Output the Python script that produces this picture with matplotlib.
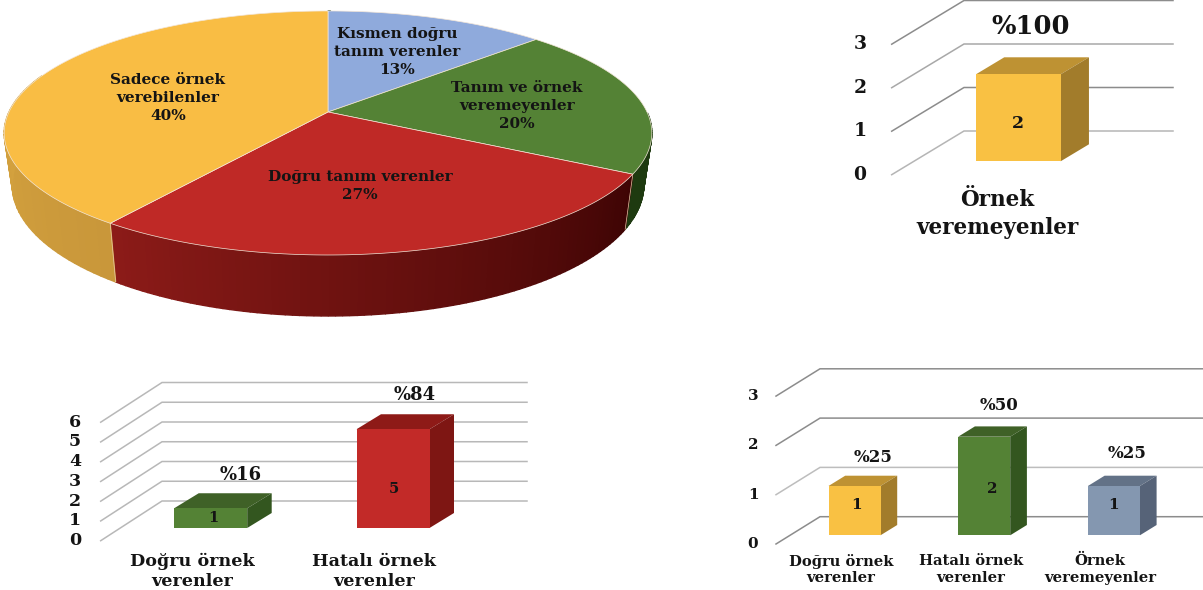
import numpy as np
import matplotlib
matplotlib.use('Agg')
import matplotlib.pyplot as plt
from matplotlib.patches import Polygon

W, H = 1203, 590

# pie
pie_labels = ['Kısmen doğru\ntanım verenler\n13%', 'Tanım ve örnek\nveremeyenler\n20%',
              'Doğru tanım verenler\n27%', 'Sadece örnek\nverebilenler\n40%']
pie_values = [13, 20, 27, 40]

# top right bars
single_cats = ['Örnek\nveremeyenler']
single_vals = [2]
single_pcts = ['%100']
single_ticks = [0, 1, 2, 3]

# bottom left bars
two_cats = ['Doğru örnek\nverenler', 'Hatalı örnek\nverenler']
two_vals = [1, 5]
two_pcts = ['%16', '%84']
two_ticks = [0, 1, 2, 3, 4, 5, 6]

# bottom right bars
three_cats = ['Doğru örnek\nverenler', 'Hatalı örnek\nverenler', 'Örnek\nveremeyenler']
three_vals = [1, 2, 1]
three_pcts = ['%25', '%50', '%25']
three_ticks = [0, 1, 2, 3]

YELLOW = ('#F9C143', '#BE9233', '#A27C2B')
GREEN = ('#548235', '#3F6127', '#33561F')
RED = ('#C22A28', '#8E1A17', '#7E1613')
SLATE = ('#8497B0', '#637287', '#566378')
INK = '#141414'

plt.rcParams['font.family'] = ['DejaVu Serif']
plt.rcParams['font.weight'] = 'bold'

fig = plt.figure(figsize=(W / 100, H / 100), dpi=100, facecolor='white')


def label(x, y, s, size, **kw):
    fig.text(x / W, 1 - y / H, s, fontsize=size, color=INK, ha='center', va='center',
             fontweight='bold', **kw)


def make_axes(left, right, top, bottom):
    ax = fig.add_axes([left / W, 1 - bottom / H, (right - left) / W, (bottom - top) / H])
    ax.axis('off')
    return ax


def rim(t, extra=0.0, shrink=1.0):
    # tilted disc seen in perspective, t is the clockwise angle from the top
    cx, cy = 328, 112
    u, v = np.sin(t), np.cos(t)
    w = 1 + 0.172 * v
    x = cx + shrink * 319 * u / w
    y = cy - 118.4 * v / w + extra / w
    return x, y


def draw_pie():
    ax = make_axes(0, 670, 0, 330)
    ax.set_xlim(0, 670)
    ax.set_ylim(330, 0)
    top_cols = ['#8FAADC', '#548235', '#BF2926', '#F9BD44']
    # colours of the outer wall at start and end of each slice
    wall_cols = [('#1E3A10', '#1E3A10'), ('#1E3A10', '#1E3A10'),
                 ('#3E0404', '#8C1B18'), ('#C9973A', '#E6B445')]
    edges = np.cumsum([0] + pie_values) / sum(pie_values) * 2 * np.pi
    for i in range(len(pie_values)):
        ts = np.linspace(edges[i], edges[i + 1], 90)
        c0 = np.array(matplotlib.colors.to_rgb(wall_cols[i][0]))
        c1 = np.array(matplotlib.colors.to_rgb(wall_cols[i][1]))
        for j in range(len(ts) - 1):
            if np.sin(ts[j]) > 0 and np.cos(ts[j]) > 0:
                continue
            if ts[j] > 1.6 * np.pi:
                continue
            f = j / (len(ts) - 2)
            xa, ya = rim(ts[j:j + 2])
            xb, yb = rim(ts[j:j + 2], 50.5, 0.975)
            col = c0 + (c1 - c0) * f
            ax.fill(np.r_[xa, xb[::-1]], np.r_[ya, yb[::-1]], facecolor=col, edgecolor=col,
                    lw=1.0, zorder=1)
    # light seams on the wall
    for e in edges[2:4]:
        xa, ya = rim(e)
        xb, yb = rim(e, 50.5, 0.975)
        ax.plot([xa, xb], [ya, yb], color='#E8C9A8', lw=0.5, zorder=2)
    for i in range(len(pie_values)):
        ts = np.linspace(edges[i], edges[i + 1], 120)
        x, y = rim(ts)
        ax.fill(np.r_[328, x], np.r_[112, y], facecolor=top_cols[i], edgecolor='#F3E6D8',
                lw=0.5, zorder=3)
    positions = [(397, 52), (517, 106), (360, 186), (168, 98)]
    for (px, py), s in zip(positions, pie_labels):
        label(px, py, s, 11, linespacing=1.38)


def draw_bars(cats, vals, pcts, ticks, colours, geo):
    left, right, top, bottom = geo['box']
    step = geo['step']
    unit = geo['unit']
    base = geo['base']
    first = geo['first']
    ax = make_axes(left, right, top, bottom)
    ax.set_xlim((left - first) / step, (right - first) / step)
    ax.set_ylim((base - bottom) / unit, (base - top) / unit)

    wall_x = (geo['wall_left'] - first) / step
    front_x = (geo['front_left'] - first) / step
    wall_y = (base - geo['wall_y0']) / unit
    front_y = (base - geo['front_y0']) / unit
    for v, col in zip(ticks, geo['grid']):
        ax.plot([front_x, wall_x, (geo['grid_right'] - first) / step],
                [v + front_y, v + wall_y, v + wall_y], color=col, lw=1.1, zorder=1,
                clip_on=False, solid_joinstyle='miter')
        label(geo['tick_x'], geo['front_y0'] - v * unit, str(v), geo['tick_size'])

    bw = geo['bar_px'] / step
    dx = geo['depth_px'][0] / step
    dy = geo['depth_px'][1] / unit
    xs = np.arange(len(vals))
    ax.bar(xs, vals, width=bw, color=[c[0] for c in colours], zorder=4, linewidth=0)
    for x, v, c in zip(xs, vals, colours):
        l, r = x - bw / 2, x + bw / 2
        ax.add_patch(Polygon([(l, v), (r, v), (r + dx, v + dy), (l + dx, v + dy)],
                             facecolor=c[1], lw=0, zorder=3))
        ax.add_patch(Polygon([(r, 0), (r + dx, dy), (r + dx, v + dy), (r, v)],
                             facecolor=c[2], lw=0, zorder=3))

    for v, (px, py) in zip(vals, geo['val_pos']):
        label(px, py, str(v), geo['val_size'])
    for p, (px, py) in zip(pcts, geo['pct_pos']):
        label(px, py, p, geo['pct_size'])
    for c, (px, py) in zip(cats, geo['cat_pos']):
        label(px, py, c, geo['cat_size'], linespacing=geo['cat_space'])


draw_pie()

draw_bars(single_cats, single_vals, single_pcts, single_ticks, [YELLOW], dict(
    box=(885, 1180, 0, 180), first=1018.3, step=200, unit=43.5, base=161.3,
    wall_left=964, front_left=891.7, wall_y0=131, front_y0=174.7, grid_right=1173,
    grid=['#B5B5B5', '#8C8C8C', '#A8A8A8', '#8C8C8C'],
    bar_px=84.7, depth_px=(28.3, 17), tick_x=860, tick_size=13.5,
    val_pos=[(1018, 124)], val_size=12.5, pct_pos=[(1031, 27)], pct_size=18.5,
    cat_pos=[(997, 214)], cat_size=15.5, cat_space=1.36))

draw_bars(two_cats, two_vals, two_pcts, two_ticks, [GREEN, RED], dict(
    box=(95, 535, 375, 545), first=210.7, step=182.3, unit=19.75, base=528,
    wall_left=162, front_left=100.7, wall_y0=501, front_y0=540.7, grid_right=527,
    grid=['#B8B8B8'] * 7,
    bar_px=73, depth_px=(24.5, 15), tick_x=75, tick_size=12.5,
    val_pos=[(213, 518), (394, 489)], val_size=10.5,
    pct_pos=[(241, 475), (415, 395)], pct_size=13,
    cat_pos=[(192, 571.5), (374, 571.5)], cat_size=12.6, cat_space=1.22))

draw_bars(three_cats, three_vals, three_pcts, three_ticks, [YELLOW, GREEN, SLATE], dict(
    box=(770, 1203, 360, 550), first=854.5, step=129.7, unit=49.3, base=535.3,
    wall_left=820, front_left=776, wall_y0=516.7, front_y0=544, grid_right=1203,
    grid=['#8C8C8C', '#BDBDBD', '#8C8C8C', '#8C8C8C'],
    bar_px=52, depth_px=(16.7, 10.3), tick_x=753, tick_size=11,
    val_pos=[(856, 505), (992, 489), (1114, 505)], val_size=11,
    pct_pos=[(873, 457), (999, 406), (1127, 453)], pct_size=12,
    cat_pos=[(841, 569.5), (971, 569.5), (1100, 569.5)], cat_size=10.6, cat_space=1.22))

fig.savefig('out.png', dpi=100)
